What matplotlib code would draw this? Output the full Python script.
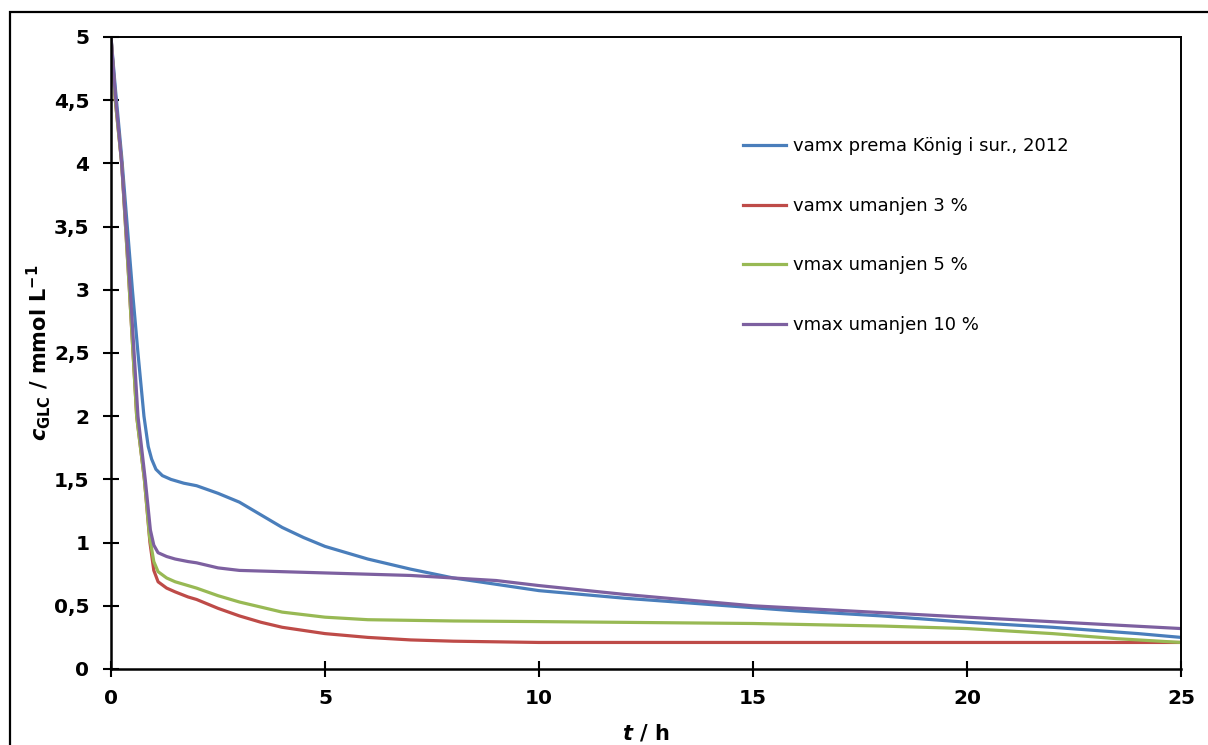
import matplotlib
matplotlib.use('Agg')
import matplotlib.pyplot as plt
from matplotlib.patches import Rectangle

# glucose concentration vs time
t_blue = [0, 0.1, 0.25, 0.5, 0.63, 0.77, 0.87, 0.95, 1.05, 1.2, 1.4, 1.7, 2.0, 2.5, 3.0,
          3.5, 4.0, 4.5, 5, 6, 7, 8, 9, 10, 12, 14, 16, 18, 20, 22, 24, 25]
c_blue = [5, 4.6, 4.05, 3.0, 2.5, 2.0, 1.76, 1.66, 1.58, 1.53, 1.5, 1.47, 1.45, 1.39, 1.32,
          1.22, 1.12, 1.04, 0.97, 0.87, 0.79, 0.72, 0.67, 0.62, 0.56, 0.51, 0.46, 0.42, 0.37, 0.33, 0.28, 0.25]

t_red = [0, 0.1, 0.25, 0.43, 0.6, 0.78, 0.91, 1.0, 1.1, 1.3, 1.5, 1.8, 2.0, 2.5, 3.0,
         3.5, 4.0, 5, 6, 7, 8, 10, 15, 20, 25]
c_red = [5, 4.5, 4.0, 3.0, 2.0, 1.5, 1.0, 0.78, 0.69, 0.64, 0.61, 0.57, 0.55, 0.48, 0.42,
         0.37, 0.33, 0.28, 0.25, 0.23, 0.22, 0.21, 0.21, 0.21, 0.21]

t_green = [0, 0.1, 0.25, 0.43, 0.6, 0.78, 0.9, 1.0, 1.1, 1.3, 1.5, 1.8, 2.0, 2.5, 3.0,
           3.5, 4.0, 5, 6, 8, 10, 15, 18, 20, 22, 23.5, 25]
c_green = [5, 4.5, 4.0, 3.0, 2.0, 1.5, 1.05, 0.85, 0.77, 0.72, 0.69, 0.66, 0.64, 0.58, 0.53,
           0.49, 0.45, 0.41, 0.39, 0.38, 0.375, 0.36, 0.34, 0.32, 0.28, 0.24, 0.21]

t_purple = [0, 0.1, 0.25, 0.45, 0.63, 0.8, 0.92, 1.0, 1.1, 1.3, 1.5, 1.8, 2.0, 2.5, 3.0,
            4.0, 5, 6, 7, 8, 9, 10, 12, 15, 20, 25]
c_purple = [5, 4.55, 4.0, 3.0, 2.0, 1.5, 1.1, 0.98, 0.92, 0.89, 0.87, 0.85, 0.84, 0.8, 0.78,
            0.77, 0.76, 0.75, 0.74, 0.72, 0.7, 0.66, 0.59, 0.5, 0.41, 0.32]

labels = ['vamx prema König i sur., 2012', 'vamx umanjen 3 %',
          'vmax umanjen 5 %', 'vmax umanjen 10 %']
colors = ['#4A7EBB', '#BE4B48', '#98B954', '#7D60A0']

x_ticks = [0, 5, 10, 15, 20, 25]
y_ticks = [0, 0.5, 1, 1.5, 2, 2.5, 3, 3.5, 4, 4.5, 5]
y_tick_labels = ['0', '0,5', '1', '1,5', '2', '2,5', '3', '3,5', '4', '4,5', '5']

plt.rcParams['font.family'] = 'DejaVu Sans'
plt.rcParams['mathtext.fontset'] = 'custom'
plt.rcParams['mathtext.rm'] = 'DejaVu Sans:bold'
plt.rcParams['mathtext.it'] = 'DejaVu Sans:bold:italic'
plt.rcParams['mathtext.bf'] = 'DejaVu Sans:bold'

fig = plt.figure(figsize=(12.08, 7.45), dpi=100)
ax = fig.add_axes([111/1208, 1 - 669/745, (1181-111)/1208, (669-37)/745])

# outer chart frame (cut off on right and bottom)
fig.patches.append(Rectangle((10/1208, -0.2), 1.2, 1.2 - 12/745, transform=fig.transFigure,
                             fill=False, edgecolor='black', linewidth=1.6, zorder=0))

series = [(t_blue, c_blue), (t_red, c_red), (t_green, c_green), (t_purple, c_purple)]
for (tt, cc), lab, col in zip(series, labels, colors):
    ax.plot(tt, cc, color=col, linewidth=2.3, label=lab)

ax.set_xlim(0, 25)
ax.set_ylim(0, 5)
ax.set_xticks(x_ticks)
ax.set_yticks(y_ticks)
ax.set_yticklabels(y_tick_labels)
ax.tick_params(direction='inout', length=11, width=1.5, labelsize=14.5)
ax.tick_params(axis='y', pad=10)
ax.tick_params(axis='x', pad=9)
for lab in ax.get_xticklabels() + ax.get_yticklabels():
    lab.set_fontweight('bold')
for s in ['left', 'bottom']:
    ax.spines[s].set_linewidth(1.8)
for s in ['top', 'right']:
    ax.spines[s].set_linewidth(1.4)

ax.set_xlabel(r'$t$ / h', fontsize=15, fontweight='bold', labelpad=10)
ax.set_ylabel(r'$c_{\rm GLC}$ / mmol L$^{-1}$', fontsize=15, fontweight='bold', labelpad=1)

ax.legend(loc='upper left', bbox_to_anchor=(0.575, 0.867), frameon=False, fontsize=13,
          handlelength=2.4, labelspacing=2.3, handletextpad=0.4)

plt.savefig('out.png', dpi=100)
